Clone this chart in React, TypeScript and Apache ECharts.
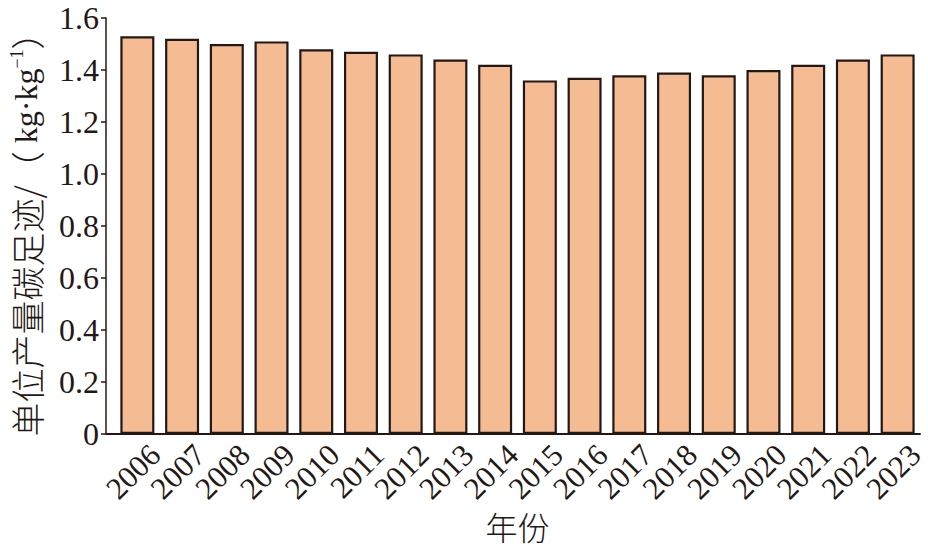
import React, { useEffect, useRef } from "react";
import * as echarts from "echarts";

const years = ["2006","2007","2008","2009","2010","2011","2012","2013","2014","2015","2016","2017","2018","2019","2020","2021","2022","2023"];
const footprint = [1.53,1.52,1.50,1.51,1.48,1.47,1.46,1.44,1.42,1.36,1.37,1.38,1.39,1.38,1.40,1.42,1.44,1.46];
const yTicks = { min: 0, max: 1.6, interval: 0.2 };

const FONT = '"Liberation Serif", "Times New Roman", "Noto Sans CJK SC", serif';
const CJK = '"Noto Sans CJK SC", "Liberation Serif", serif';
const INK = "#231815";

export default function App() {
  const ref = useRef<HTMLDivElement>(null);
  useEffect(() => {
    const chart = echarts.init(ref.current!, null, { renderer: "svg" });
    chart.setOption({
      animation: false,
      backgroundColor: "#ffffff",
      grid: {
        left: 115,
        right: 8,
        top: 18,
        bottom: 112,
        containLabel: false,
        outerBoundsMode: "none",
      },
      xAxis: {
        type: "category",
        data: years,
        name: "年份",
        nameLocation: "middle",
        nameGap: 76,
        nameMoveOverlap: false,
        nameTextStyle: {
          fontFamily: CJK,
          fontSize: 32,
          lineHeight: 32,
          color: INK,
          fontWeight: 300,
        },
        axisLine: { show: true, lineStyle: { color: INK, width: 2 } },
        axisTick: { show: false },
        axisLabel: {
          rotate: 45,
          interval: 0,
          margin: -2,
          verticalAlign: "top",
          lineHeight: 50,
          fontFamily: FONT,
          fontSize: 31,
          color: INK,
        },
      },
      yAxis: {
        type: "value",
        min: yTicks.min,
        max: yTicks.max,
        interval: yTicks.interval,
        offset: 9,
        name: "{c|单位产量碳足迹/（}{a| kg·kg}{s|−1}{c|）}",
        nameLocation: "middle",
        nameGap: 62,
        nameRotate: 90,
        nameMoveOverlap: false,
        nameTextStyle: {
          fontFamily: FONT,
          color: INK,
          rich: {
            c: { fontFamily: CJK, fontSize: 34, color: INK, lineHeight: 36, fontWeight: 300 },
            a: { fontFamily: FONT, fontSize: 32, color: INK, lineHeight: 36 },
            s: { fontFamily: FONT, fontSize: 18, color: INK, verticalAlign: "top", lineHeight: 36 },
          },
        },
        splitLine: { show: false },
        axisLine: { show: true, lineStyle: { color: INK, width: 1.5 } },
        axisTick: { show: true, length: 5, lineStyle: { color: INK, width: 1.5 } },
        axisLabel: {
          margin: 7,
          fontFamily: FONT,
          fontSize: 32,
          color: INK,
          formatter: (v: number) => (v === 0 ? "0" : v.toFixed(1)),
        },
      },
      graphic: [
        {
          type: "line",
          shape: { x1: 106, y1: 434, x2: 116, y2: 434 },
          style: { stroke: INK, lineWidth: 2 },
        },
      ],
      series: [
        {
          type: "bar",
          data: footprint,
          barWidth: 34,
          itemStyle: { color: "#F5BB93", borderColor: INK, borderWidth: 2.2 },
        },
      ],
    });
    return () => chart.dispose();
  }, []);
  return (
    <div
      ref={ref}
      style={{ position: "fixed", left: 0, top: 0, width: 928, height: 546 }}
    />
  );
}
